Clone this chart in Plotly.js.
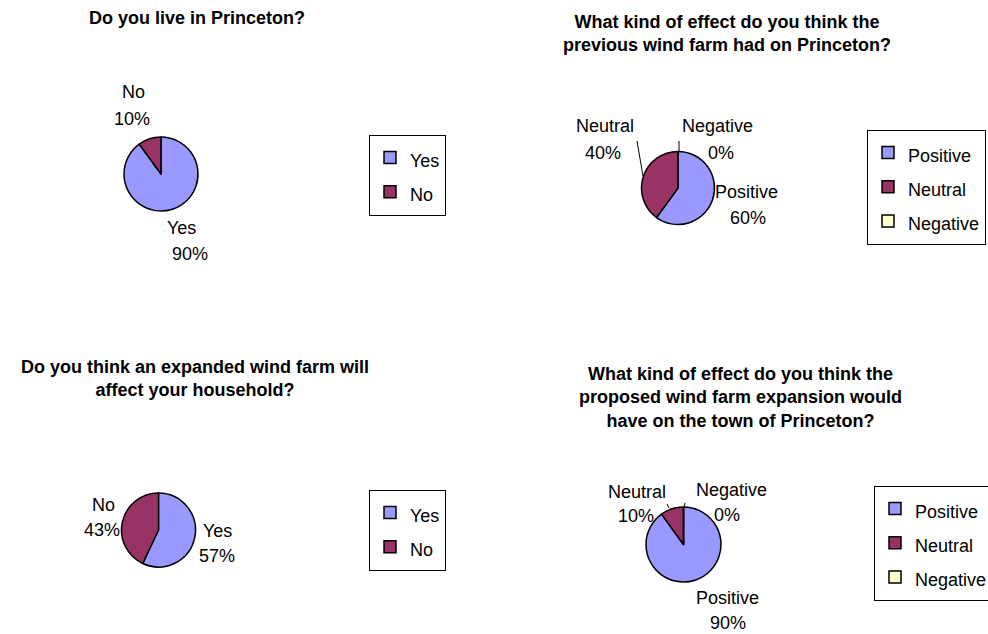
<!DOCTYPE html>
<html><head><meta charset="utf-8">
<script src="https://cdn.plot.ly/plotly-3.0.1.min.js"></script>
<style>html,body{margin:0;padding:0;background:#fff;}#chart{width:988px;height:634px;}</style>
</head><body><div id="chart"></div>
<script>
// ---- data ----
const q1Title = 'Do you live in Princeton?';
const q1Labels = ['Yes', 'No'];
const q1Values = [90, 10];

const q2Title = 'What kind of effect do you think the<br>previous wind farm had on Princeton?';
const q2Labels = ['Positive', 'Neutral', 'Negative'];
const q2Values = [60, 40, 0];

const q3Title = 'Do you think an expanded wind farm will<br>affect your household?';
const q3Labels = ['Yes', 'No'];
const q3Values = [57, 43];

const q4Title = 'What kind of effect do you think the<br>proposed wind farm expansion would<br>have on the town of Princeton?';
const q4Labels = ['Positive', 'Neutral', 'Negative'];
const q4Values = [90, 10, 0];

const yesNoColors = ['#9999FF', '#993366'];
const effectColors = ['#9999FF', '#993366', '#FFFFCC'];

// ---- layout helpers (pixel positions) ----
const W = 988, H = 634;
const px = x => x / W;
const py = y => 1 - y / H;
const FONT = 'Liberation Sans, Arial, sans-serif';

const charts = [
  {title: q1Title, labels: q1Labels, values: q1Values, colors: yesNoColors,
   cx: 161, cy: 174, r: 37, titleX: 197, titleY: 18, legend: 'legend',
   lab: [[181, 228, 190, 254], [133, 92, 132, 119]]},
  {title: q2Title, labels: q2Labels, values: q2Values, colors: effectColors,
   cx: 678, cy: 188, r: 36.5, titleX: 727, titleY: 33, legend: 'legend2',
   lab: [[746, 192, 748, 218], [605, 126, 603, 153], [717, 126, 721, 153]]},
  {title: q3Title, labels: q3Labels, values: q3Values, colors: yesNoColors,
   cx: 158.5, cy: 530, r: 37, titleX: 195, titleY: 378, legend: 'legend3',
   lab: [[217, 531, 217, 556], [103, 505, 102, 530]]},
  {title: q4Title, labels: q4Labels, values: q4Values, colors: effectColors,
   cx: 683.5, cy: 544.5, r: 37.5, titleX: 740, titleY: 397, legend: 'legend4',
   lab: [[727, 598, 728, 623], [637, 492, 636, 516], [731, 490, 727, 515]]}
];

const traces = [];
const annotations = [];
charts.forEach((c, k) => {
  traces.push({
    type: 'pie',
    labels: c.labels.map(s => '<span style="font-size:18px">' + s + '</span>'),
    values: c.values,
    sort: false,
    direction: 'clockwise',
    rotation: 0,
    textinfo: 'none',
    hoverinfo: 'none',
    marker: {colors: c.colors, line: {color: '#000000', width: 1.5}},
    domain: {x: [px(c.cx - c.r), px(c.cx + c.r)], y: [py(c.cy + c.r), py(c.cy - c.r)]},
    legend: c.legend,
    legendgroup: 'group' + k,
    showlegend: true
  });
  annotations.push({
    text: c.title, xref: 'paper', yref: 'paper', x: px(c.titleX), y: py(c.titleY),
    xanchor: 'center', yanchor: 'middle', showarrow: false, align: 'center',
    font: {family: FONT, size: 18, weight: 'bold', color: '#000'}
  });
  const total = c.values.reduce((a, b) => a + b, 0);
  c.labels.forEach((lab, i) => {
    const p = c.lab[i];
    annotations.push({text: lab, xref: 'paper', yref: 'paper', x: px(p[0]), y: py(p[1]),
      xanchor: 'center', yanchor: 'middle', showarrow: false,
      font: {family: FONT, size: 18, color: '#000'}});
    annotations.push({text: Math.round(c.values[i] / total * 100) + '%', xref: 'paper', yref: 'paper',
      x: px(p[2]), y: py(p[3]), xanchor: 'center', yanchor: 'middle', showarrow: false,
      font: {family: FONT, size: 18, color: '#000'}});
  });
});

function leader(x0, y0, x1, y1) {
  return {type: 'line', xref: 'paper', yref: 'paper', x0: px(x0), y0: py(y0), x1: px(x1), y1: py(y1),
    line: {color: '#000', width: 1}};
}
const shapes = [
  leader(637, 141, 643, 176),
  leader(679, 141, 679, 152),
  leader(667, 504, 669, 508),
  leader(685, 503, 684, 507)
];

function legendBox(x, yc) {
  return {x: px(x), y: py(yc), xanchor: 'left', yanchor: 'middle', orientation: 'v',
    bgcolor: '#ffffff', bordercolor: '#000000', borderwidth: 1,
    font: {family: FONT, size: 24, color: '#000'}, traceorder: 'normal'};
}

const layout = {
  width: W, height: H,
  margin: {l: 0, r: 0, t: 0, b: 0, autoexpand: false},
  paper_bgcolor: '#ffffff', plot_bgcolor: '#ffffff',
  font: {family: FONT, color: '#000'},
  showlegend: true,
  legend: legendBox(369, 175),
  legend2: legendBox(867, 187),
  legend3: legendBox(369, 530),
  legend4: legendBox(874, 543),
  annotations: annotations,
  shapes: shapes
};

Plotly.newPlot('chart', traces, layout, {staticPlot: true, displayModeBar: false});
</script></body></html>
